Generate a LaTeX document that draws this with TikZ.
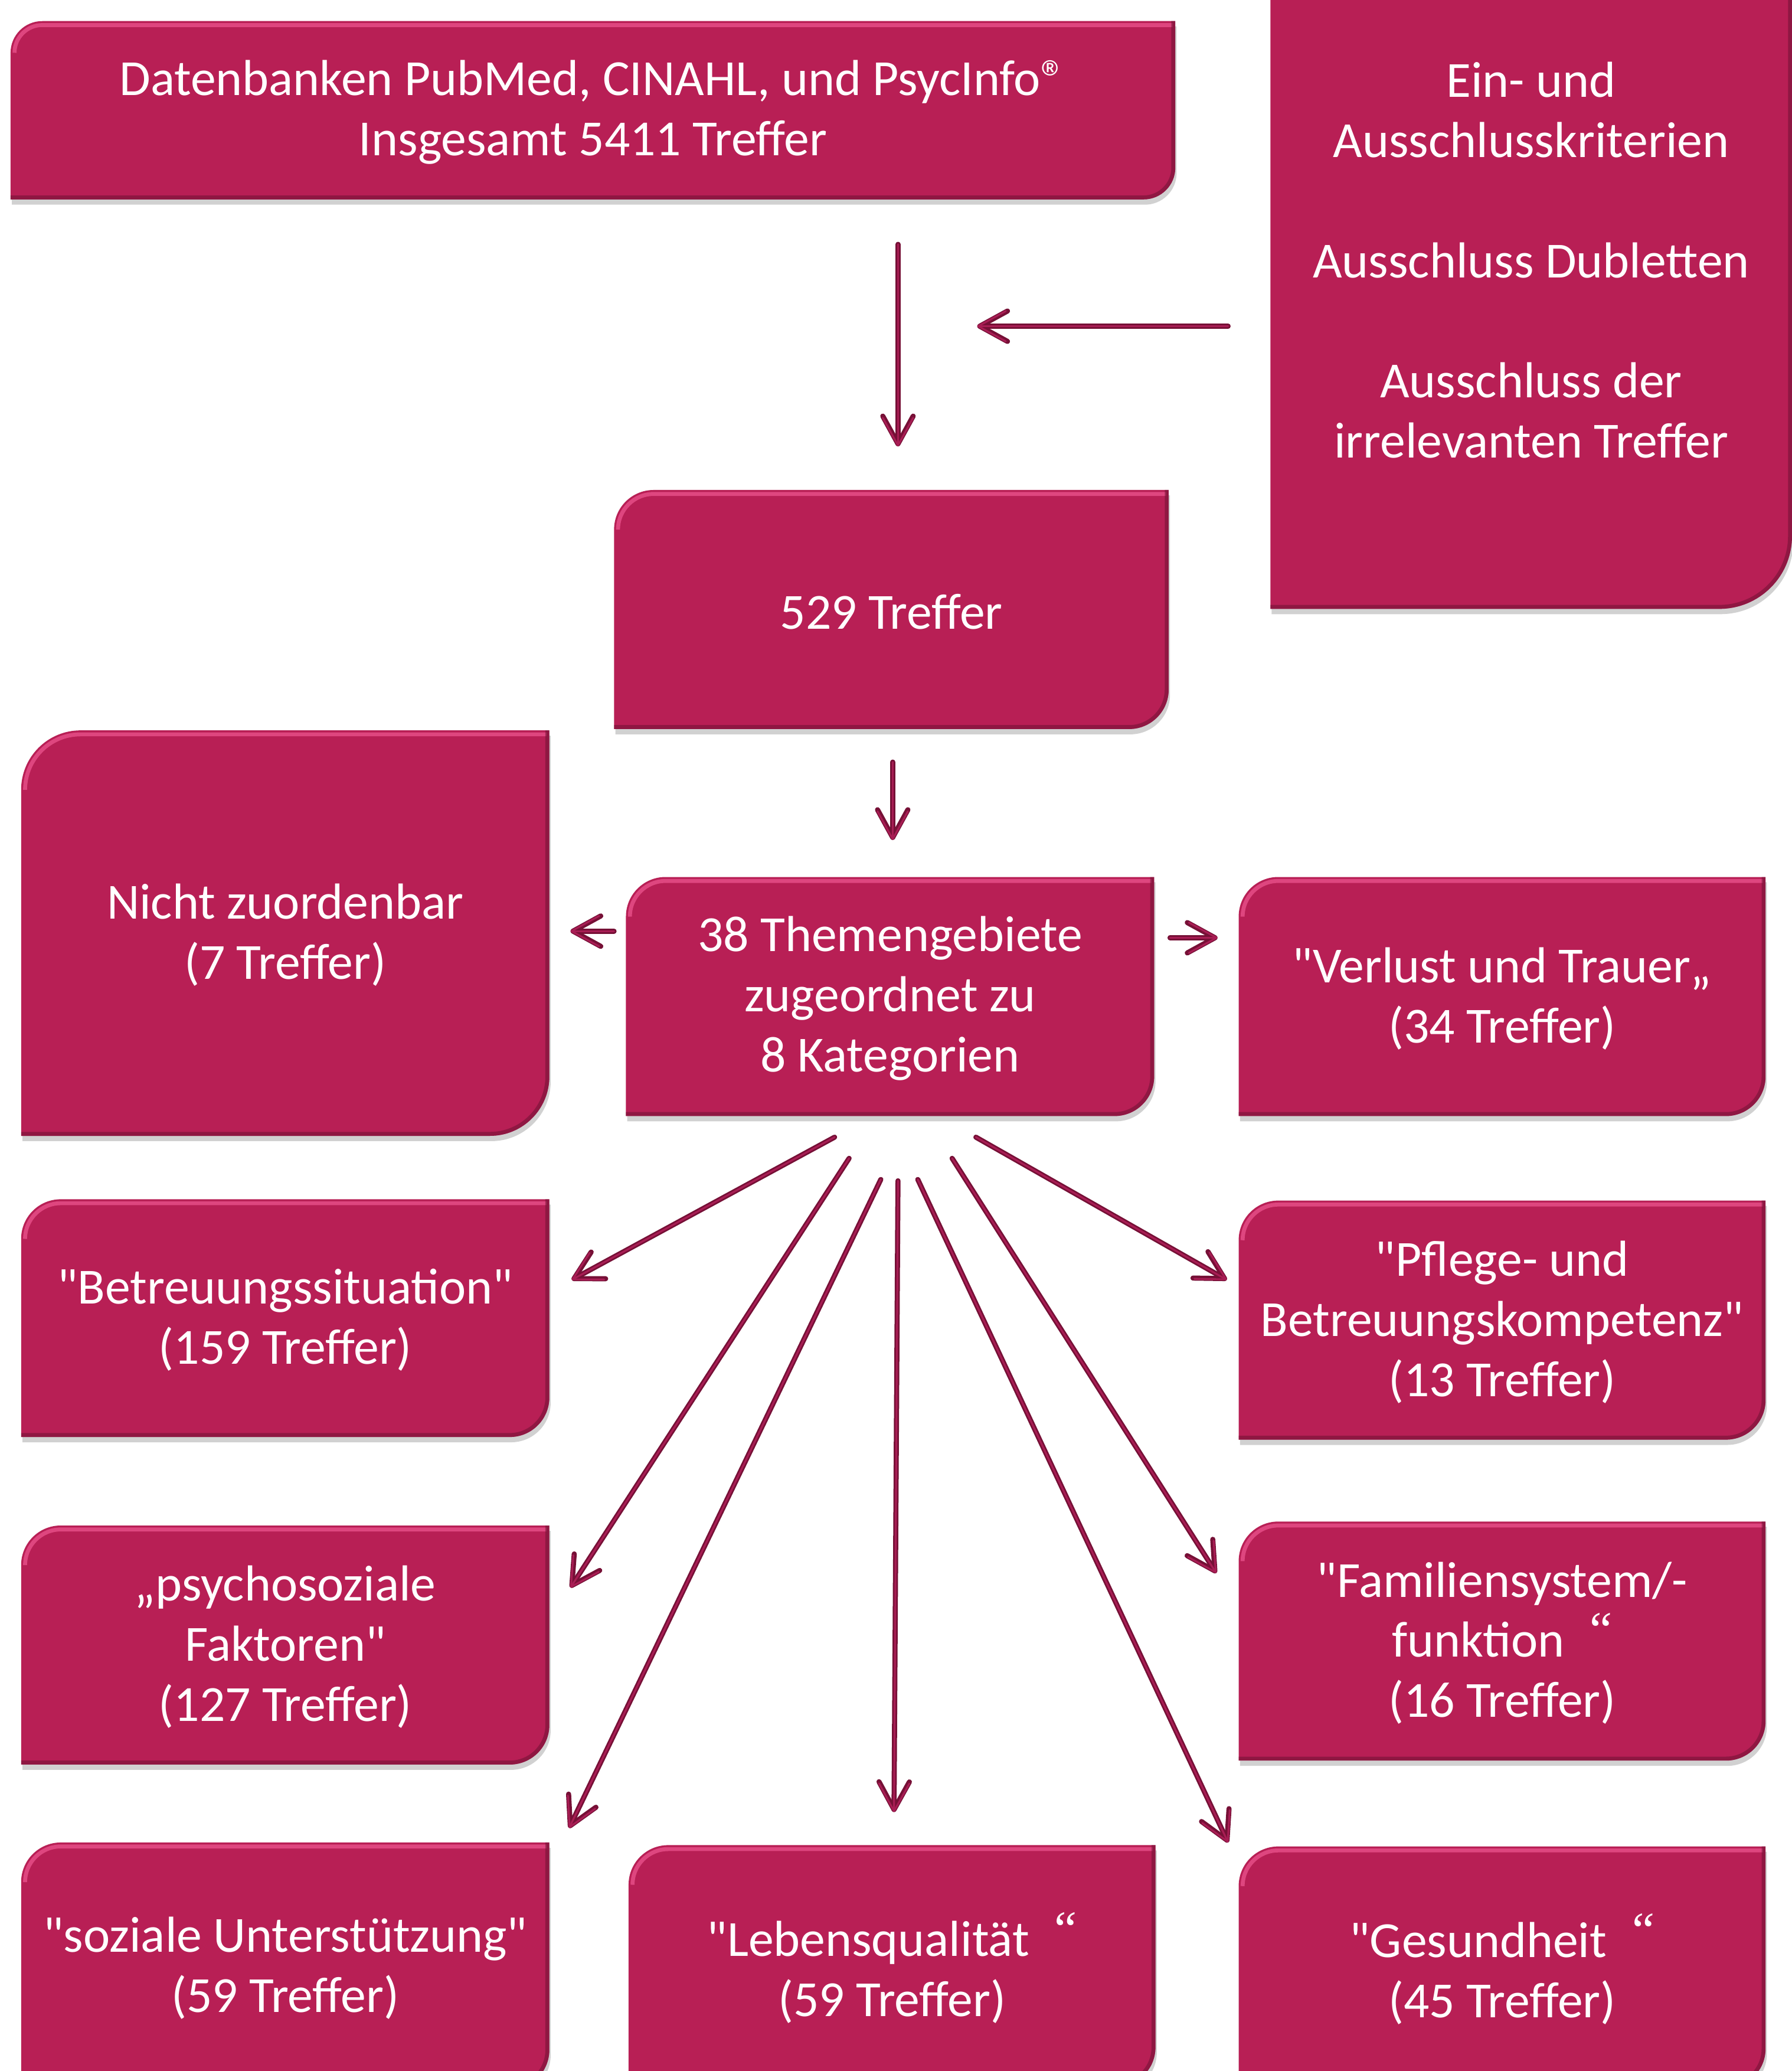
\documentclass[tikz,border=0pt]{standalone}
\usepackage{fontspec}
\newfontfamily\calfont{Carlito}
\newfontfamily\qfont{Liberation Serif}
\usetikzlibrary{arrows.meta}
\definecolor{boxc}{HTML}{B81F55}
\definecolor{boxhi}{HTML}{E8508A}
\definecolor{boxdk}{HTML}{6E1233}
\definecolor{arrdk}{HTML}{761036}
\definecolor{arrlt}{HTML}{A81D54}
\newcommand\hq{\hspace{0.5em}\raisebox{0.2em}{\qfont “}}
\newcommand\regm{®}
\tikzset{
  boxtext/.style={text=white, font=\calfont\fontsize{21.8}{25.9}\selectfont, align=center, inner sep=0pt, outer sep=0pt},
  arrbase/.style={-{Straight Barb[length=0.42cm,width=0.46cm,round]}, line cap=round, line join=round},
  arrdark/.style={arrbase, draw=arrdk, line width=2.2pt},
  arrlight/.style={arrbase, draw=arrlt, line width=0.8pt},
}
% #1 name, #2 x1, #3 top, #4 x2, #5 bottom (image px), #6 radius, #7 text
\newcommand\flowbox[7]{%
  \pgfmathsetmacro\xa{#2}\pgfmathsetmacro\xb{#4}%
  \pgfmathsetmacro\ya{1568-#5}\pgfmathsetmacro\yb{1568-#3}%
  \pgfmathsetmacro\rr{#6}\pgfmathsetmacro\ri{#6-3}\pgfmathsetmacro\rd{#6-1.5}%
  \pgfmathsetmacro\xc{(#2+#4)/2}\pgfmathsetmacro\yc{1568-(#3+#5)/2-1.5}%
  \pgfmathsetmacro\bw{(#4-#2)*0.02}\pgfmathsetmacro\bh{(#5-#3)*0.02}%
  \fill[black, opacity=0.18] (\xa+1,\yb-\rr-4) -- (\xa+1,\ya-4) -- (\xb-\rr+1,\ya-4)
     arc[start angle=270,end angle=360,radius=\rr] -- (\xb+1,\yb-4) -- (\xa+\rr+1,\yb-4)
     arc[start angle=90,end angle=180,radius=\rr] -- cycle;
  \fill[boxc] (\xa,\yb-\rr) -- (\xa,\ya) -- (\xb-\rr,\ya)
     arc[start angle=270,end angle=360,radius=\rr] -- (\xb,\yb) -- (\xa+\rr,\yb)
     arc[start angle=90,end angle=180,radius=\rr] -- cycle;
  \draw[boxhi, opacity=0.8, line width=0.06cm] (\xa+3,\yb-\rr)
     arc[start angle=180,end angle=90,radius=\ri] -- (\xb-2,\yb-3);
  \draw[boxdk, opacity=0.55, line width=0.06cm] (\xa,\ya+1.5) -- (\xb-\rr,\ya+1.5)
     arc[start angle=270,end angle=360,radius=\rd] -- (\xb-1.5,\yb);
  \node[boxtext, minimum width=\bw cm, minimum height=\bh cm] (#1) at (\xc,\yc) {#7};
}
\newcommand\flowarrow[2]{\draw[arrdark] (#1) -- (#2); \draw[arrlight] (#1) -- (#2);}
\begin{document}
\begin{tikzpicture}[x=0.02cm,y=0.02cm]
\useasboundingbox (0,0) rectangle (1357,1568);
\clip (0,0) rectangle (1357,1568);
\fill[white] (0,0) rectangle (1357,1568);

\flowbox{db}{8}{16}{890}{151}{24}{Datenbanken PubMed, CINAHL, und PsycInfo\regm\\Insgesamt 5411 Treffer}
\flowbox{crit}{962}{-70}{1357}{461}{55}{Ein- und\\Ausschlusskriterien\\[25.9pt]Ausschluss Dubletten\\[25.9pt]Ausschluss der\\irrelevanten Treffer}
\flowbox{t529}{465}{371}{885}{552}{30}{529 Treffer}
\flowbox{nz}{16}{553}{416}{860}{45}{Nicht zuordenbar\\(7 Treffer)}
\flowbox{themen}{474}{664}{874}{845}{30}{38 Themengebiete\\zugeordnet zu\\8 Kategorien}
\flowbox{verlust}{938}{664}{1337}{845}{30}{"Verlust und Trauer„\\(34 Treffer)}
\flowbox{betr}{16}{908}{416}{1088}{30}{"Betreuungssituation"\\(159 Treffer)}
\flowbox{pflege}{938}{909}{1337}{1090}{30}{"Pflege- und\\Betreuungskompetenz"\\(13 Treffer)}
\flowbox{psycho}{16}{1155}{416}{1336}{30}{„psychosoziale\\Faktoren"\\(127 Treffer)}
\flowbox{fam}{938}{1152}{1337}{1333}{30}{"Familiensystem/-\\funktion\hq\\(16 Treffer)}
\flowbox{sozial}{16}{1395}{416}{1582}{30}{"soziale Unterstützung"\\(59 Treffer)}
\flowbox{leben}{476}{1397}{875}{1580}{30}{"Lebensqualität\hq\\(59 Treffer)}
\flowbox{gesund}{938}{1398}{1337}{1581}{30}{"Gesundheit\hq\\(45 Treffer)}

% arrow end points
\coordinate (a1s) at (680,1383); \coordinate (a1e) at (680,1230);
\coordinate (a2s) at (930,1321); \coordinate (a2e) at (740,1321);
\coordinate (a3s) at (676,991);  \coordinate (a3e) at (676,932);
\coordinate (a4s) at (465,863);  \coordinate (a4e) at (432,863);
\coordinate (a5s) at (886,858);  \coordinate (a5e) at (922,858);
\coordinate (bfs) at (632,707);  \coordinate (bfe) at (433,599);
\coordinate (bgs) at (643,691);  \coordinate (bge) at (432,366);
\coordinate (bhs) at (667,675);  \coordinate (bhe) at (431,184);
\coordinate (bis) at (680,674);  \coordinate (bie) at (677,196);
\coordinate (bjs) at (695,675);  \coordinate (bje) at (930,173);
\coordinate (bks) at (721,691);  \coordinate (bke) at (921,377);
\coordinate (bls) at (739,707);  \coordinate (ble) at (929,599);

\flowarrow{a1s}{a1e}
\flowarrow{a2s}{a2e}
\flowarrow{a3s}{a3e}
\flowarrow{a4s}{a4e}
\flowarrow{a5s}{a5e}
\flowarrow{bfs}{bfe}
\flowarrow{bgs}{bge}
\flowarrow{bhs}{bhe}
\flowarrow{bis}{bie}
\flowarrow{bjs}{bje}
\flowarrow{bks}{bke}
\flowarrow{bls}{ble}
\end{tikzpicture}
\end{document}
